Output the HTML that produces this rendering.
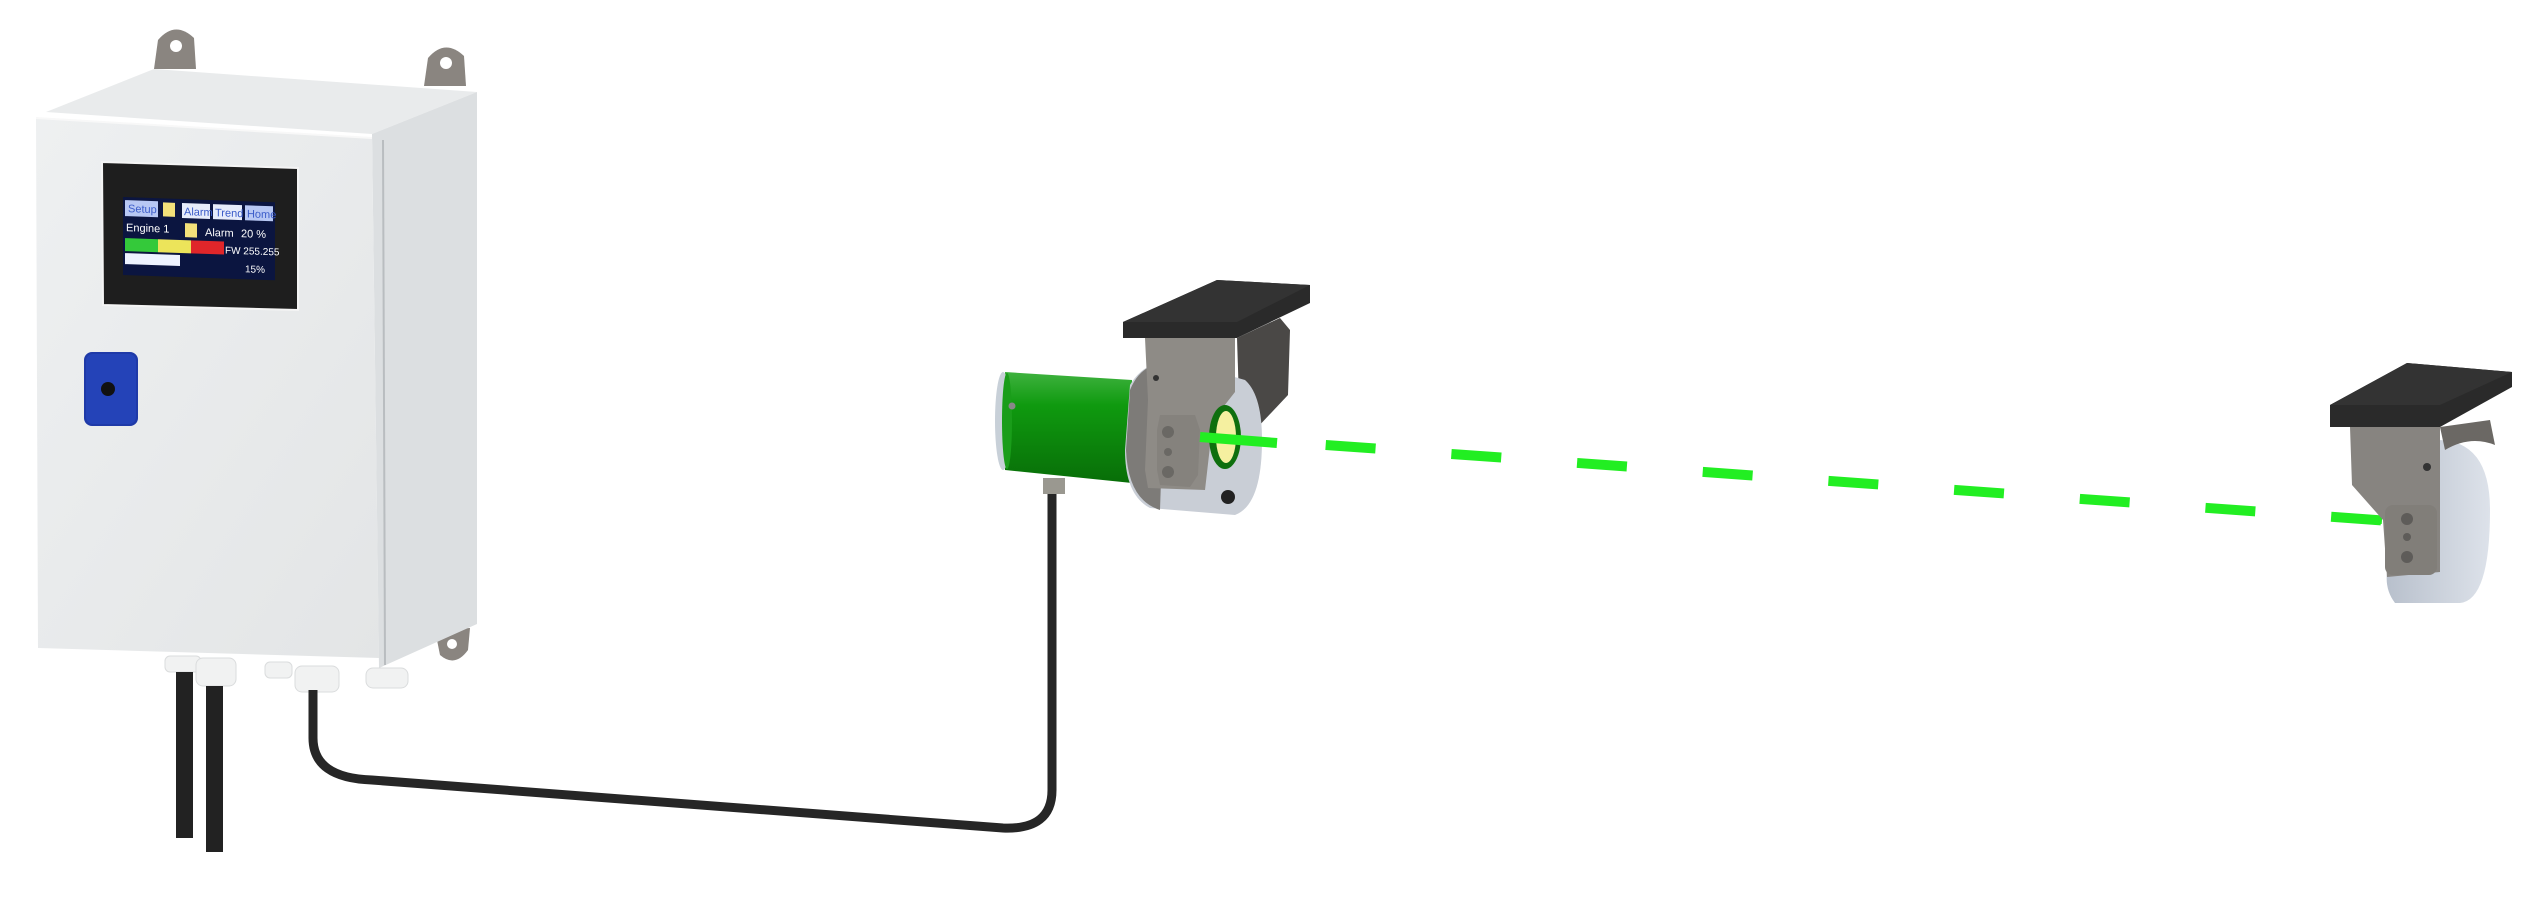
<!DOCTYPE html>
<html><head><meta charset="utf-8"><style>
html,body{margin:0;padding:0;background:#fff;}
svg{display:block;}
text{font-family:"Liberation Sans",sans-serif;}
</style></head><body>
<svg width="2538" height="897" viewBox="0 0 2538 897" xmlns="http://www.w3.org/2000/svg">
<defs>
<linearGradient id="green" x1="0" y1="0" x2="0" y2="1">
<stop offset="0" stop-color="#3fb23f"/><stop offset="0.3" stop-color="#0f9a0f"/><stop offset="1" stop-color="#086e08"/></linearGradient>
<linearGradient id="front" x1="0" y1="0" x2="1" y2="1">
<stop offset="0" stop-color="#eef0f1"/><stop offset="1" stop-color="#e3e5e6"/></linearGradient>
<linearGradient id="silver" x1="0" y1="0" x2="1" y2="0">
<stop offset="0" stop-color="#b8c0cc"/><stop offset="1" stop-color="#dde2ea"/></linearGradient>
</defs>

<!-- lugs top -->
<path d="M154,69 L158,40 Q175,20 194,38 L196,69 Z" fill="#8a8580"/>
<circle cx="176" cy="46" r="6" fill="#fff"/>
<path d="M424,86 L428,58 Q445,38 464,56 L466,86 Z" fill="#8a8580"/>
<circle cx="446" cy="63" r="6" fill="#fff"/>
<!-- bottom lug -->
<path d="M435,630 L470,628 L468,650 Q455,668 440,655 Z" fill="#8a8580"/>
<circle cx="452" cy="644" r="5" fill="#fff"/>

<!-- cabinet top face -->
<polygon points="46,112 154,69 477,92 372,134" fill="#e9ebec"/>
<!-- side face -->
<polygon points="372,134 477,92 477,624 379,668" fill="#dcdfe1"/>
<line x1="383" y1="140" x2="385" y2="665" stroke="#b9bdc0" stroke-width="2"/>
<!-- front -->
<polygon points="36,118 372,138 379,658 38,648" fill="url(#front)"/>
<line x1="36" y1="118" x2="372" y2="138" stroke="#f8f8f8" stroke-width="2"/>

<!-- glands -->
<g fill="#f1f2f2" stroke="#dadcdd" stroke-width="1">
<rect x="165" y="656" width="36" height="16" rx="5"/>
<rect x="196" y="658" width="40" height="28" rx="7"/>
<rect x="265" y="662" width="27" height="16" rx="5"/>
<rect x="295" y="666" width="44" height="26" rx="7"/>
<rect x="366" y="668" width="42" height="20" rx="7"/>
</g>

<!-- cables -->
<rect x="176" y="672" width="17" height="166" fill="#222"/>
<rect x="206" y="686" width="17" height="166" fill="#222"/>
<path d="M313,690 L313,738 Q313,778 372,780 L1003,828 Q1052,830 1052,790 L1052,493" fill="none" stroke="#262626" stroke-width="9"/>

<!-- screen bezel -->
<polygon points="102,162 298,168 298,310 103,305" fill="#1e1e1e" stroke="#f4f4f4" stroke-width="2"/>
<g transform="translate(123,197) skewY(2)">
<rect x="0" y="0" width="152" height="78" fill="#0b1540"/>
<g font-size="11" fill="#3b5cc9">
<rect x="2" y="3" width="33" height="16" fill="#b8c8f4"/><text x="5" y="15">Setup</text>
<rect x="40" y="4" width="12" height="14" fill="#f2e07a"/>
<rect x="59" y="4" width="28" height="15" fill="#e6ecfb"/><text x="61" y="16">Alarm</text>
<rect x="90" y="4" width="29" height="15" fill="#e6ecfb"/><text x="92" y="16">Trend</text>
<rect x="122" y="4" width="28" height="15" fill="#b8c8f4"/><text x="124" y="16">Home</text>
</g>
<g font-size="11" fill="#fff">
<text x="3" y="34">Engine 1</text>
<rect x="62" y="24" width="12" height="14" fill="#f2e07a"/>
<text x="82" y="36">Alarm</text><text x="118" y="36">20 %</text>
<rect x="2" y="41" width="33" height="13" fill="#34c93a"/>
<rect x="35" y="41" width="33" height="13" fill="#ece45a"/>
<rect x="68" y="41" width="33" height="13" fill="#e0262a"/>
<text x="102" y="53" font-size="10">FW 255.255</text>
<rect x="2" y="56" width="55" height="11" fill="#eef3ff"/>
<text x="122" y="71" font-size="10">15%</text>
</g>
</g>

<!-- blue knob -->
<rect x="84" y="352" width="54" height="74" rx="8" fill="#1f3aa8"/>
<rect x="86" y="354" width="50" height="70" rx="7" fill="#2443b8"/>
<circle cx="108" cy="389" r="7" fill="#111"/>

<!-- laser beam -->
<line x1="1200" y1="436" x2="2390" y2="521" stroke="#22ee22" stroke-width="10" stroke-dasharray="50 76"/>

<!-- SENSOR -->
<!-- green cylinder -->
<path d="M1005,372 L1132,380 L1132,483 L1005,470 Z" fill="url(#green)"/>
<ellipse cx="1003" cy="421" rx="8" ry="49" fill="#c8d0d8"/>
<ellipse cx="1007" cy="421" rx="5" ry="48" fill="#1a9d1a"/>
<circle cx="1012" cy="406" r="3.5" fill="#888"/>
<rect x="1043" y="478" width="22" height="16" fill="#9a9890"/>
<!-- back dark bracket -->
<polygon points="1237,338 1280,318 1290,330 1288,395 1255,430 1240,430" fill="#4a4846"/>
<!-- silver ring -->
<path d="M1130,385 Q1145,360 1175,360 L1245,380 Q1262,395 1262,440 Q1262,505 1235,515 L1150,508 Q1125,495 1125,450 Z" fill="#c9ced6"/>
<path d="M1130,390 Q1140,365 1165,362 L1160,510 Q1128,500 1126,450 Z" fill="#7d7b78"/>
<!-- grey plate -->
<polygon points="1145,338 1235,338 1235,392 1213,420 1205,490 1148,488 1145,470 1148,400" fill="#8e8b86"/>
<polygon points="1160,415 1195,415 1200,430 1198,475 1190,487 1160,485 1157,470 1157,430" fill="#85827d"/>
<circle cx="1168" cy="432" r="6" fill="#6a6864"/><circle cx="1168" cy="452" r="4" fill="#6a6864"/><circle cx="1168" cy="472" r="6" fill="#6a6864"/>
<circle cx="1156" cy="378" r="3" fill="#333"/>
<!-- lens -->
<ellipse cx="1225" cy="437" rx="16" ry="32" fill="#0e6f0e"/>
<ellipse cx="1226" cy="437" rx="10" ry="26" fill="#f5f0a0"/>
<circle cx="1228" cy="497" r="7" fill="#222"/>
<!-- plate top -->
<polygon points="1123,322 1217,280 1310,285 1310,303 1237,338 1123,338" fill="#2a2a2a"/>
<polygon points="1123,322 1217,280 1310,285 1237,322" fill="#333"/>
<line x1="1200" y1="437" x2="1277" y2="443" stroke="#22ee22" stroke-width="10"/>

<!-- RECEIVER -->
<line x1="2352" y1="518" x2="2382" y2="520" stroke="#22ee22" stroke-width="8"/>
<path d="M2437,440 Q2490,440 2490,510 Q2490,600 2460,603 L2395,603 Q2385,590 2387,573 L2437,560 Z" fill="url(#silver)"/>
<path d="M2350,427 L2440,427 L2440,572 L2387,577 L2383,520 L2352,485 Z" fill="#878480"/>
<path d="M2440,427 L2490,420 L2495,445 Q2470,435 2445,450 Z" fill="#6b6864"/>
<rect x="2385" y="505" width="52" height="70" rx="8" fill="#817e79"/>
<circle cx="2407" cy="519" r="6" fill="#5e5c59"/><circle cx="2407" cy="537" r="4" fill="#5e5c59"/><circle cx="2407" cy="557" r="6" fill="#5e5c59"/>
<circle cx="2427" cy="467" r="4" fill="#333"/>
<polygon points="2330,405 2407,363 2512,372 2512,387 2440,427 2330,427" fill="#2a2a2a"/>
<polygon points="2330,405 2407,363 2512,372 2440,405" fill="#333"/>
</svg>
</body></html>
